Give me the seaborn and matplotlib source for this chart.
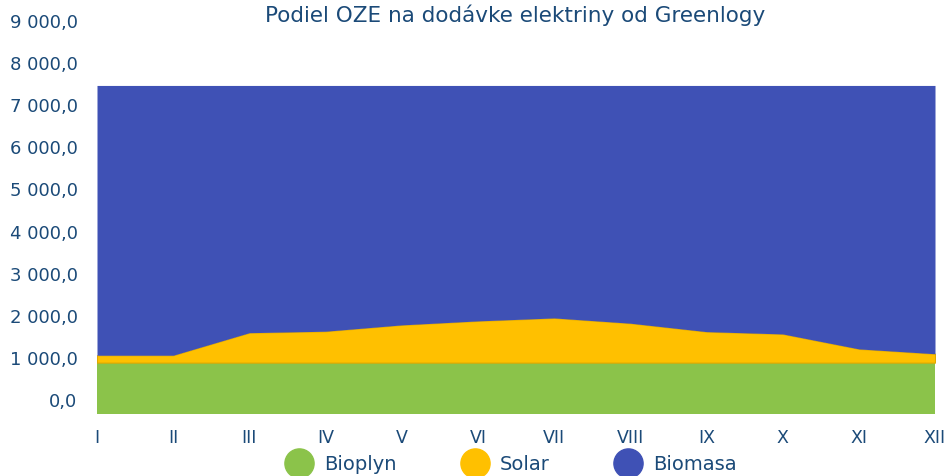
import numpy as np
import pandas as pd
import matplotlib.pyplot as plt
import matplotlib.transforms as mtransforms
from matplotlib.lines import Line2D
import seaborn as sns

# Data
months = ['I', 'II', 'III', 'IV', 'V', 'VI', 'VII', 'VIII', 'IX', 'X', 'XI', 'XII']
bioplyn = [1220, 1220, 1220, 1220, 1220, 1220, 1220, 1220, 1220, 1220, 1220, 1220]
solar = [175, 175, 710, 745, 895, 990, 1060, 935, 735, 680, 325, 210]
biomasa = [6405, 6405, 5870, 5835, 5685, 5590, 5520, 5645, 5845, 5900, 6255, 6370]

series_names = ['Bioplyn', 'Solar', 'Biomasa']
colors = ['#8BC34A', '#FFC000', '#3F51B5']
text_color = '#1B4A78'

df = pd.DataFrame({'month': months, 'Bioplyn': bioplyn, 'Solar': solar, 'Biomasa': biomasa})

sns.set_theme(style='white')
plt.rcParams['font.family'] = ['DejaVu Sans']

fig = plt.figure(figsize=(9.46, 4.76), dpi=100)
ax = fig.add_axes([97 / 946, 62 / 476, (935 - 97) / 946, (414 - 21) / 476])

x = np.arange(len(months))
polys = ax.stackplot(x, df['Bioplyn'], df['Solar'], df['Biomasa'], colors=colors, linewidth=0)
polys[1].set_edgecolor('#E0A800')
polys[1].set_linewidth(0.8)

ax.set_xlim(0, len(months) - 1)
ax.set_ylim(0, 9330)
yt = list(range(0, 9001, 1000))
ax.set_yticks(yt)
ax.set_yticklabels([f'{v:,.1f}'.replace(',', ' ').replace('.', ',') for v in yt])
ax.set_xticks(x)
ax.set_xticklabels(months)
ax.tick_params(axis='y', labelsize=13, colors=text_color, length=0, pad=14)
ax.tick_params(axis='x', labelsize=12.5, colors=text_color, length=0, pad=11)
# the reference draws its value labels a little above the gridline positions
shift = mtransforms.ScaledTranslation(0, 14 / 100, fig.dpi_scale_trans)
for lbl in ax.get_yticklabels():
    lbl.set_transform(lbl.get_transform() + shift)
for s in ax.spines.values():
    s.set_visible(False)

fig.suptitle('Podiel OZE na dodávke elektriny od Greenlogy', x=0.545, y=0.99,
             fontsize=15.5, color=text_color)

handles = [Line2D([], [], marker='o', linestyle='', markersize=21, color=c) for c in colors]
leg = fig.legend(handles, series_names, loc='lower center', bbox_to_anchor=(0.537, -0.033),
                 ncol=3, frameon=False, fontsize=14, handletextpad=0.3, columnspacing=3.0)
for t in leg.get_texts():
    t.set_color(text_color)

fig.savefig('out.png', dpi=100)
